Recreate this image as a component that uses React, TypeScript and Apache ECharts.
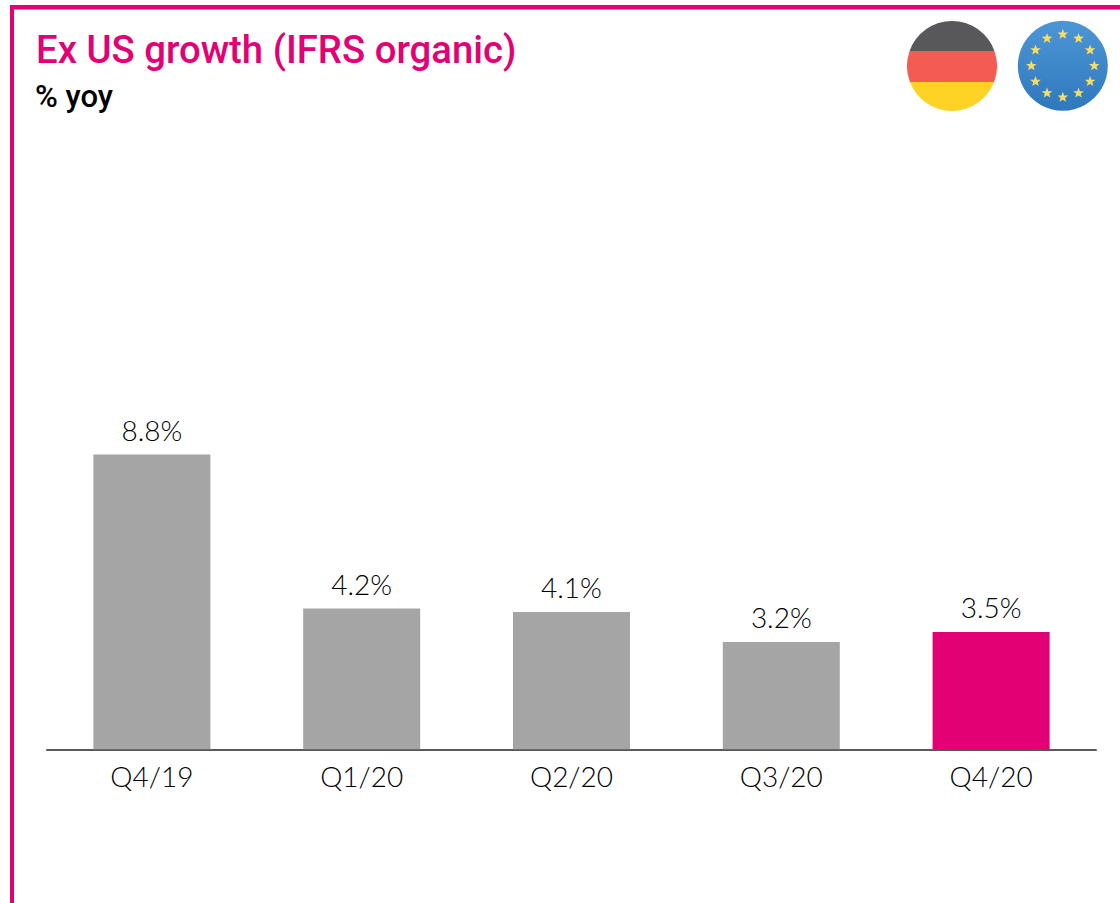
import React, { useEffect, useRef } from "react";
import * as echarts from "echarts";

const categories = ["Q4/19", "Q1/20", "Q2/20", "Q3/20", "Q4/20"];
const values = [8.8, 4.2, 4.1, 3.2, 3.5];
const highlighted = "Q4/20";
const titleText = "Ex US growth (IFRS organic)";
const subtitleText = "% yoy";

const MAGENTA = "#e20074";
const GREY = "#a5a5a5";

echarts.graphic.registerShape("flagTop", echarts.graphic.extendPath("M 909.6 51 A 45 45 0 0 1 994.4 51 Z", {}));
echarts.graphic.registerShape("flagMid", echarts.graphic.extendPath("M 909.6 51 L 994.4 51 A 45 45 0 0 1 994.06 82 L 909.94 82 A 45 45 0 0 1 909.6 51 Z", {}));
echarts.graphic.registerShape("flagBot", echarts.graphic.extendPath("M 909.94 82 L 994.06 82 A 45 45 0 0 1 909.94 82 Z", {}));

function starPoints(cx: number, cy: number, R: number) {
  const pts: number[][] = [];
  for (let i = 0; i < 10; i++) {
    const r = i % 2 === 0 ? R : R * 0.42;
    const a = -Math.PI / 2 + (i * Math.PI) / 5;
    pts.push([cx + r * Math.cos(a), cy + r * Math.sin(a)]);
  }
  return pts;
}

const euStars = Array.from({ length: 12 }, (_, i) => {
  const a = (i * Math.PI) / 6;
  return {
    type: "polygon",
    shape: { points: starPoints(1062.8 + 31.5 * Math.sin(a), 65.8 - 31.5 * Math.cos(a), 5.6) },
    style: { fill: "#f4dc6a" },
    silent: true,
  };
});

export default function App() {
  const ref = useRef<HTMLDivElement>(null);
  useEffect(() => {
    const chart = echarts.init(ref.current!, undefined, { renderer: "svg" });
    chart.setOption({
      animation: false,
      backgroundColor: "#ffffff",
      title: [
        {
          text: titleText,
          left: 31,
          top: 25,
          textStyle: { color: MAGENTA, fontFamily: "Roboto", fontWeight: 500, fontSize: 38.3 },
        },
        {
          text: subtitleText,
          left: 30,
          top: 76,
          textStyle: { color: "#000000", fontFamily: "Roboto", fontWeight: 500, fontSize: 31 },
        },
      ],
      grid: { left: 47, top: 414.3, width: 1049, height: 335 },
      xAxis: {
        type: "category",
        data: categories,
        axisTick: { show: false },
        axisLine: { lineStyle: { color: "#595959", width: 2 } },
        axisLabel: { color: "#000000", fontFamily: "Lato", fontWeight: 300, fontSize: 28, margin: 13 },
      },
      yAxis: { type: "value", min: 0, max: 10, show: false },
      series: [
        {
          type: "bar",
          barWidth: 117,
          data: values.map((v, i) => ({
            value: v,
            itemStyle: { color: categories[i] === highlighted ? MAGENTA : GREY },
          })),
          label: {
            show: true,
            position: "top",
            distance: 11,
            color: "#000000",
            fontFamily: "Lato",
            fontWeight: 300,
            fontSize: 28,
            formatter: (p: any) => `${p.value.toFixed(1)}%`,
          },
        },
      ],
      graphic: [
        { type: "rect", shape: { x: 10, y: 5, width: 1110, height: 4.5 }, style: { fill: MAGENTA }, silent: true },
        { type: "rect", shape: { x: 10, y: 5, width: 4, height: 898 }, style: { fill: MAGENTA }, silent: true },
        { type: "flagTop", style: { fill: "#58585a" }, silent: true },
        { type: "flagMid", style: { fill: "#f25c52" }, silent: true },
        { type: "flagBot", style: { fill: "#ffd226" }, silent: true },
        {
          type: "circle",
          shape: { cx: 1062.8, cy: 65.8, r: 45 },
          style: {
            fill: {
              type: "linear", x: 0, y: 0, x2: 0, y2: 1,
              colorStops: [
                { offset: 0, color: "#4d96d6" },
                { offset: 1, color: "#2f78bc" },
              ],
            },
          },
          silent: true,
        },
        ...euStars,
      ],
    });
    return () => chart.dispose();
  }, []);
  return <div ref={ref} style={{ position: "fixed", left: 0, top: 0, width: 1120, height: 903 }} />;
}
